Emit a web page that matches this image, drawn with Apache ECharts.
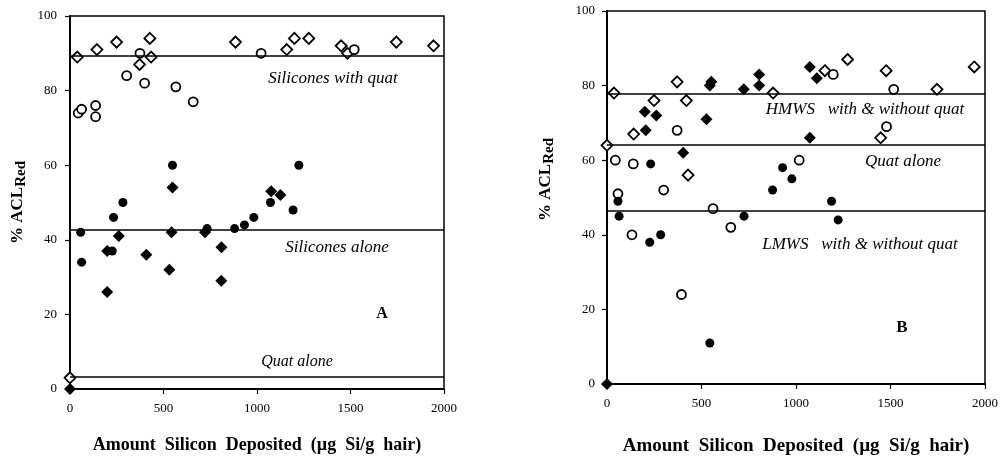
<!DOCTYPE html>
<html>
<head>
<meta charset="utf-8">
<script src="https://cdn.jsdelivr.net/npm/echarts@6/dist/echarts.min.js"></script>
<style>
  html, body { margin: 0; padding: 0; background: #fff; }
  #chart { width: 1007px; height: 457px; }
</style>
</head>
<body>
<div id="chart"></div>
<script>
// ---- Panel A: silicones with / without quat ----
const aWithQuatDiamond = [[0,3],[39,89],[144,91],[249,93],[372,87],[427,94],[434,89],[885,93],[1159,91],[1200,94],[1277,94],[1450,92],[1484,90],[1745,93],[1944,92]];
const aWithQuatCircle = [[44,74],[62,75],[137,76],[137,73],[303,84],[374,90],[399,82],[566,81],[659,77],[1022,90],[1520,91]];
const aAloneCircle = [[57,42],[62,34],[226,37],[233,46],[283,50],[548,60],[733,43],[880,43],[933,44],[983,46],[1072,50],[1193,48],[1224,60]];
const aAloneDiamond = [[0,0],[199,26],[199,37],[261,41],[408,36],[531,32],[543,42],[548,54],[722,42],[810,38],[809,29],[1076,53],[1125,52]];
const aLevels = [89.4, 42.6, 3.2];

// ---- Panel B: HMWS / LMWS ----
const bOpenDiamond = [[0,64],[37,78],[141,67],[249,76],[371,81],[420,76],[429,56],[879,78],[1153,84],[1273,87],[1448,66],[1477,84],[1746,79],[1943,85]];
const bFilledDiamond = [[0,0],[200,73],[205,68],[261,72],[403,62],[526,71],[544,80],[552,81],[724,79],[805,83],[805,80],[1073,85],[1073,66],[1110,82]];
const bOpenCircle = [[44,60],[58,51],[132,40],[139,59],[300,52],[371,68],[394,24],[561,47],[655,42],[1017,60],[1197,83],[1479,69],[1517,79]];
const bFilledCircle = [[58,49],[64,45],[226,38],[231,59],[284,40],[544,11],[725,45],[876,52],[929,58],[978,55],[1188,49],[1223,44]];
const bLevels = [77.7, 64.2, 46.5];

// ---- Axes ----
const xMin = 0, xMax = 2000, xStep = 500;
const yMin = 0, yMax = 100, yStep = 20;
const xTitle = 'Amount  Silicon  Deposited  (\u00b5g  Si/g  hair)';
const yTitle = '{p|% ACL}{s|Red}';

const SERIF = '"Liberation Serif", "Times New Roman", serif';

function xAxisCfg(gridIndex, gap, titleSize) {
  return {
    gridIndex, type: 'value', min: xMin, max: xMax, interval: xStep,
    name: xTitle, nameLocation: 'middle', nameGap: gap,
    nameTextStyle: { fontFamily: SERIF, fontWeight: 'bold', fontSize: titleSize, color: '#000' },
    axisLine: { show: true, onZero: false, lineStyle: { color: '#000', width: 2 } },
    axisTick: { show: true, inside: false, length: 5, lineStyle: { color: '#000', width: 1.2 } },
    axisLabel: { fontFamily: SERIF, fontSize: 13, color: '#000', margin: 13, formatter: v => String(v) },
    splitLine: { show: false }
  };
}
function yAxisCfg(gridIndex, gap, pad, labelGap) {
  return {
    gridIndex, type: 'value', min: yMin, max: yMax, interval: yStep,
    name: yTitle, nameLocation: 'middle', nameGap: gap, nameRotate: 90,
    nameTextStyle: {
      padding: pad,
      rich: {
        p: { fontFamily: SERIF, fontWeight: 'bold', fontSize: 17, color: '#000', lineHeight: 22, verticalAlign: 'middle' },
        s: { fontFamily: SERIF, fontWeight: 'bold', fontSize: 15, color: '#000', lineHeight: 14, verticalAlign: 'bottom' }
      }
    },
    axisLine: { show: true, onZero: false, lineStyle: { color: '#000', width: 2 } },
    axisTick: { show: true, inside: false, length: 5, lineStyle: { color: '#000', width: 1.2 } },
    axisLabel: { fontFamily: SERIF, fontSize: 13, color: '#000', margin: labelGap, formatter: v => String(v) },
    splitLine: { show: false }
  };
}

const openStyle = { color: '#fff', borderColor: '#000', borderWidth: 1.8, opacity: 1 };
const filledStyle = { color: '#000', borderColor: '#000', borderWidth: 0, opacity: 1 };

function scatter(name, data, idx, symbol, size, style, levels) {
  const s = {
    name, type: 'scatter', xAxisIndex: idx, yAxisIndex: idx,
    data, symbol, symbolSize: size, itemStyle: style, clip: false,
    animation: false, silent: true
  };
  if (levels) {
    s.markLine = {
      silent: true, symbol: ['none', 'none'], animation: false,
      label: { show: false },
      lineStyle: { color: '#000', width: 1.5, type: 'solid', opacity: 1 },
      data: levels.map(v => ({ yAxis: v }))
    };
  }
  return s;
}

function note(text, x, y, italic, size) {
  return {
    type: 'text', x, y, silent: true,
    style: {
      text, fill: '#000',
      font: (italic ? 'italic ' : 'bold ') + size + 'px ' + SERIF,
      align: 'center', verticalAlign: 'middle'
    }
  };
}

const gridBase = { show: true, borderColor: '#000', borderWidth: 1.5, backgroundColor: 'transparent', containLabel: false, outerBoundsMode: 'none' };

const chart = echarts.init(document.getElementById('chart'), null, { renderer: 'canvas' });
chart.setOption({
  backgroundColor: '#fff',
  animation: false,
  grid: [
    Object.assign({ left: 70, top: 16, width: 374, height: 373 }, gridBase),
    Object.assign({ left: 607, top: 11, width: 378, height: 373 }, gridBase)
  ],
  xAxis: [xAxisCfg(0, 47, 18), xAxisCfg(1, 53, 19)],
  yAxis: [yAxisCfg(0, 41, [0, 0, 0, 0], 13), yAxisCfg(1, 50, [0, 0, 0, 36], 12)],
  series: [
    scatter('Silicones with quat (diamond)', aWithQuatDiamond, 0, 'diamond', 11, openStyle, aLevels),
    scatter('Silicones with quat (circle)', aWithQuatCircle, 0, 'circle', 9, openStyle),
    scatter('Silicones alone (circle)', aAloneCircle, 0, 'circle', 9, filledStyle),
    scatter('Silicones alone (diamond)', aAloneDiamond, 0, 'diamond', 12, filledStyle),
    scatter('HMWS with quat', bOpenDiamond, 1, 'diamond', 11, openStyle, bLevels),
    scatter('HMWS without quat', bFilledDiamond, 1, 'diamond', 12, filledStyle),
    scatter('LMWS with quat', bOpenCircle, 1, 'circle', 9, openStyle),
    scatter('LMWS without quat', bFilledCircle, 1, 'circle', 9, filledStyle)
  ],
  graphic: [
    note('Silicones with quat', 333, 79, true, 17),
    note('Silicones alone', 337, 248, true, 17),
    note('Quat alone', 297, 362, true, 16),
    note('A', 382, 314, false, 16),
    note('HMWS   with & without quat', 865, 110, true, 17),
    note('Quat alone', 903, 162, true, 17),
    note('LMWS   with & without quat', 860, 245, true, 17),
    note('B', 902, 328, false, 17)
  ]
});
</script>
</body>
</html>
